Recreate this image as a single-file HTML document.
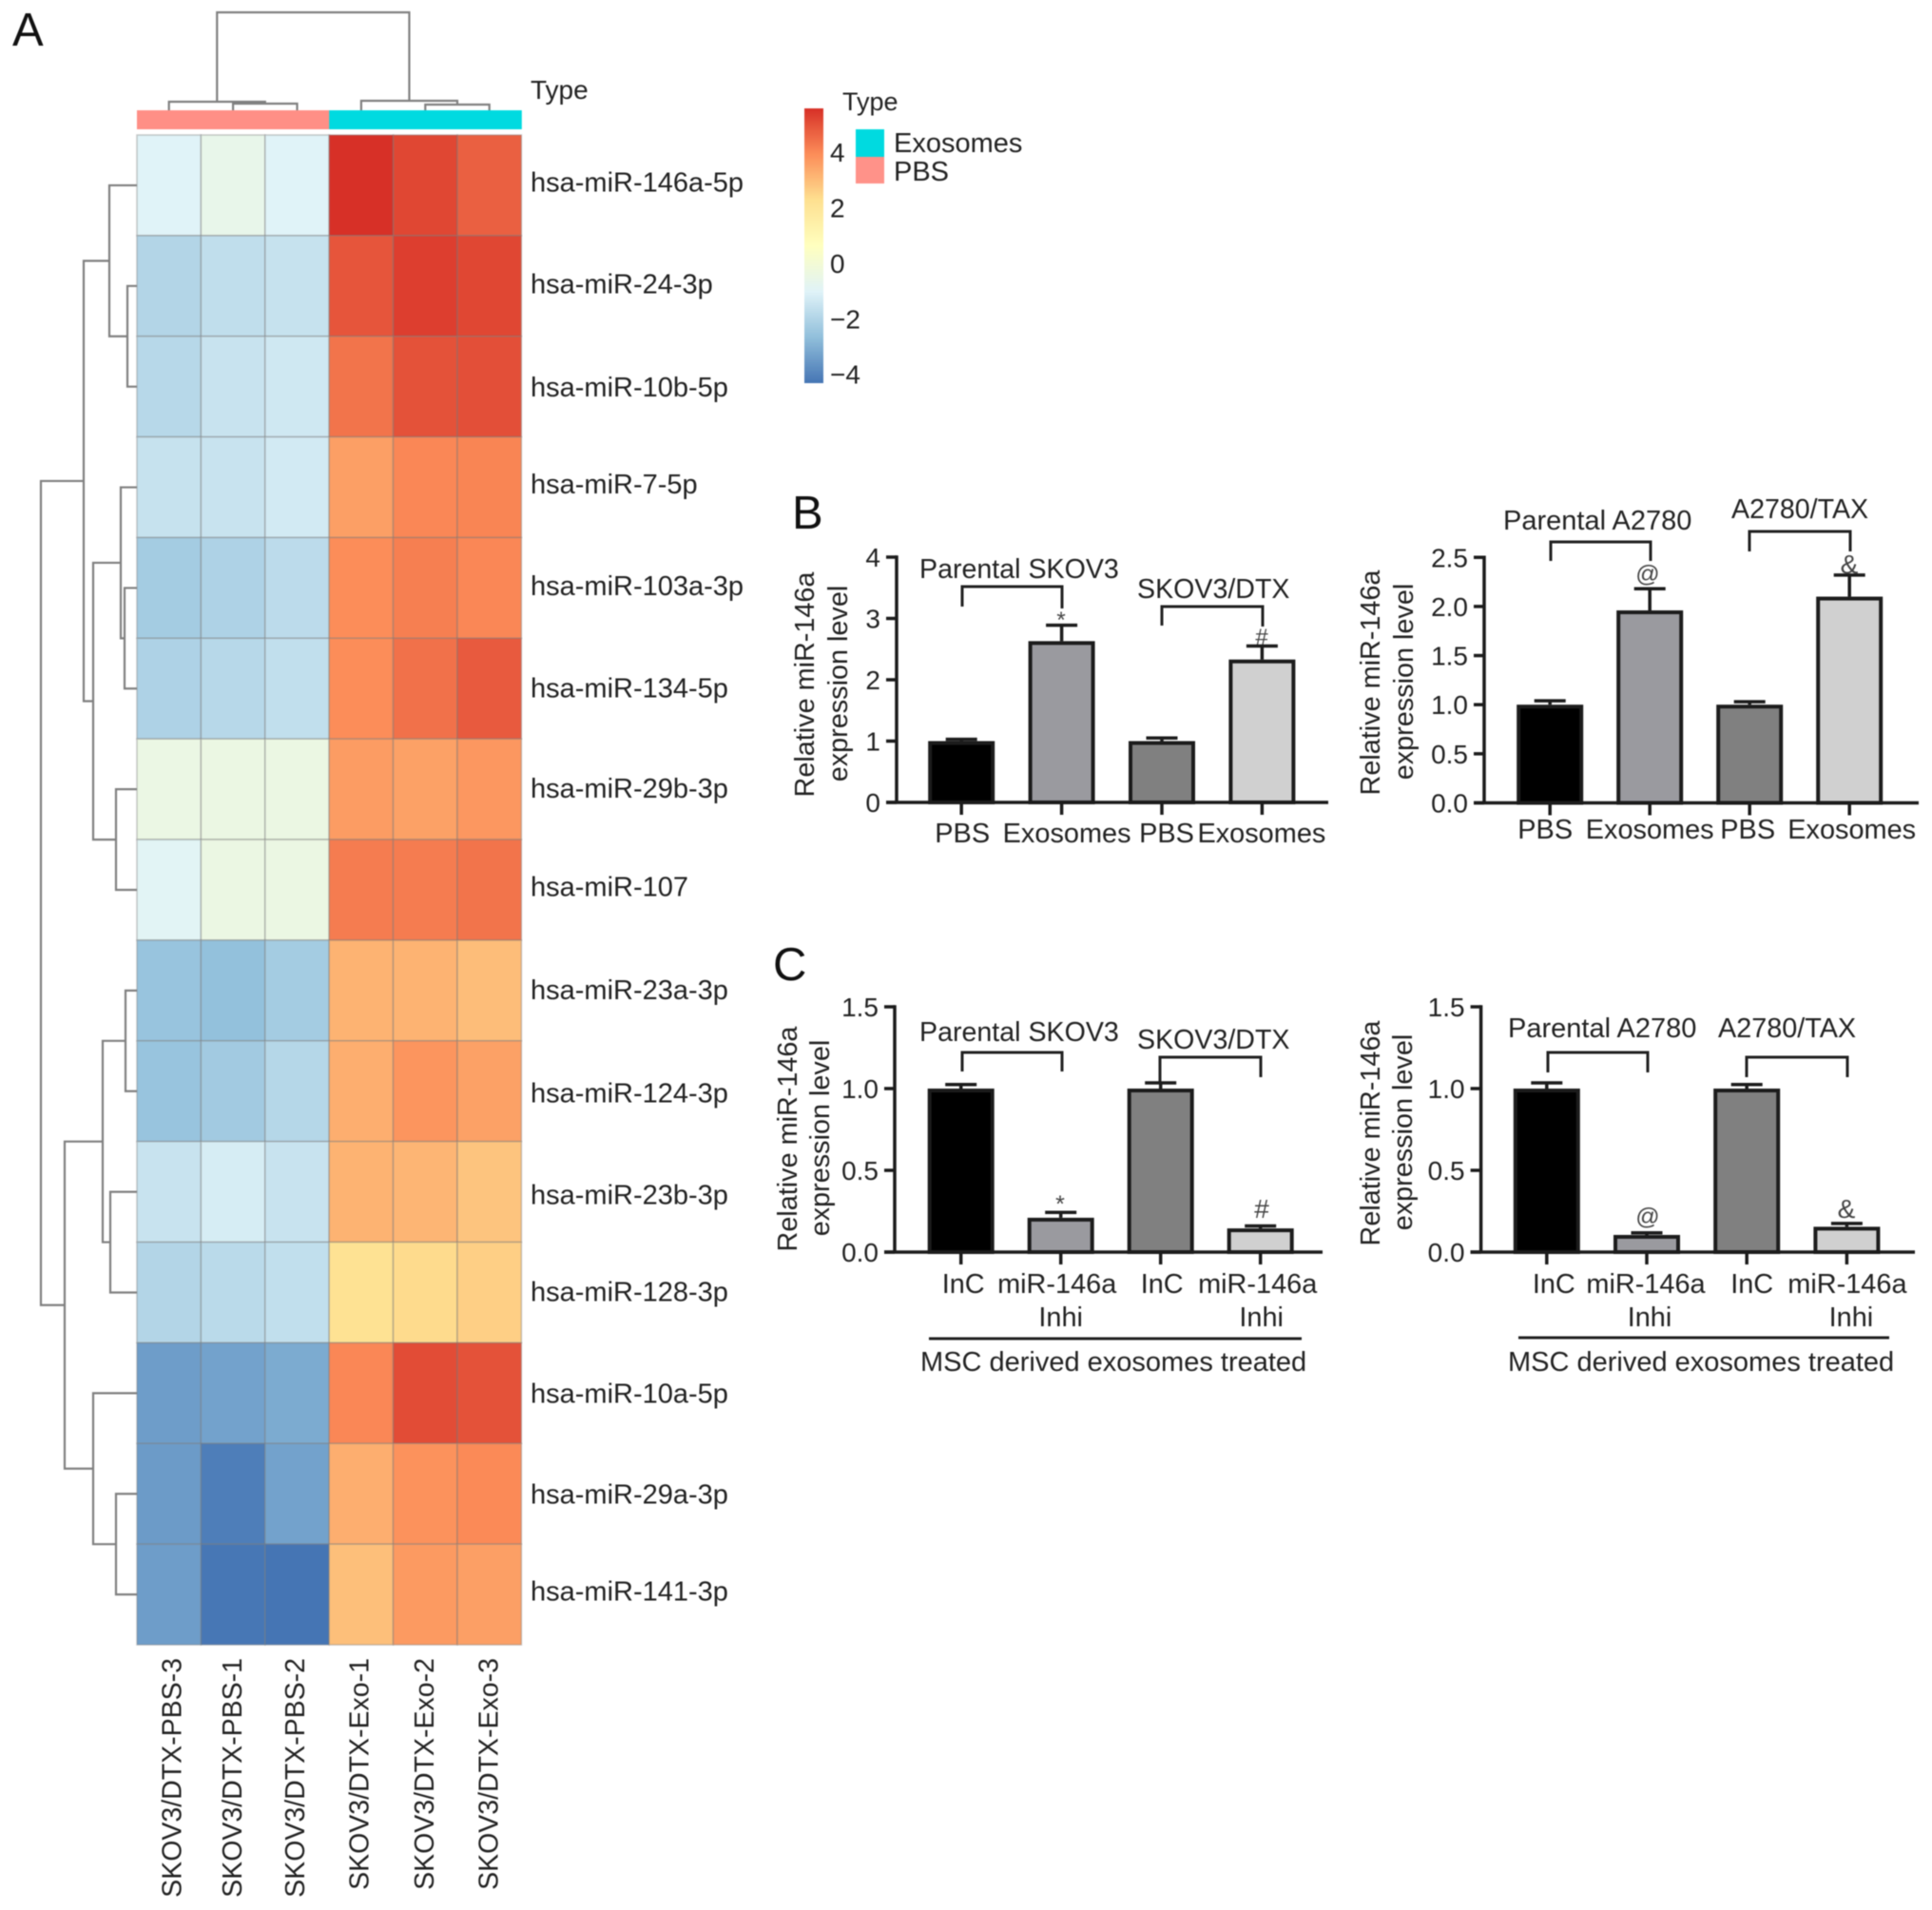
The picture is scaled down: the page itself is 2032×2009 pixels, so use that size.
<!DOCTYPE html>
<html lang="en">
<head>
<meta charset="utf-8">
<title>miR-146a heatmap and expression panels</title>
<style>
html,body{margin:0;padding:0;background:#fff;width:2032px;height:2009px;overflow:hidden}
svg{display:block;filter:blur(0.6px)}
text{font-family:"Liberation Sans",Arial,sans-serif;fill:#222}
.panel-letter{font-size:49px;fill:#111}
.anno{font-size:28.6px}
.title{font-size:28.8px;text-anchor:middle}
.sig{text-anchor:middle;fill:#444}
.bracket{fill:none;stroke:#222;stroke-width:3}
</style>
</head>
<body>
<svg id="figure" xmlns="http://www.w3.org/2000/svg" width="2032" height="2009" viewBox="0 0 2032 2009">
  <defs>
    <linearGradient id="cbar-gradient" x1="0" y1="1" x2="0" y2="0"></linearGradient>
  </defs>
  <rect x="0" y="0" width="2032" height="2009" fill="#fff"/>

  <text class="panel-letter" x="13" y="48">A</text>
  <text class="panel-letter" x="833" y="556">B</text>
  <text class="panel-letter" x="813" y="1031">C</text>

  <g id="heatmap"></g>
  <g id="legend">
    <text x="558" y="104" font-size="28">Type</text>
    <text x="886" y="116" font-size="27">Type</text>
    <rect x="900" y="136" width="30" height="29" fill="#00dae0"/>
    <rect x="900" y="165" width="30" height="28" fill="#ff9289"/>
    <text x="940" y="160" font-size="29">Exosomes</text>
    <text x="940" y="190" font-size="29">PBS</text>
  </g>

  <g id="panel-b-left">
    <text class="title" transform="translate(856 720) rotate(-90)">Relative miR-146a</text>
    <text class="title" transform="translate(891 719) rotate(-90)">expression level</text>
    <text class="anno" x="967" y="608">Parental SKOV3</text>
    <path class="bracket" d="M1012 638V617H1117V640"/>
    <text class="anno" x="1196" y="629">SKOV3/DTX</text>
    <path class="bracket" d="M1222 658V638H1328V659"/>
    <text class="sig" x="1116" y="660" font-size="24">*</text>
    <text class="sig" x="1327" y="678" font-size="24">#</text>
  </g>

  <g id="panel-b-right">
    <text class="title" transform="translate(1451 718) rotate(-90)">Relative miR-146a</text>
    <text class="title" transform="translate(1486 717) rotate(-90)">expression level</text>
    <text x="1581" y="557" font-size="29">Parental A2780</text>
    <path class="bracket" d="M1631 590V570H1736V590"/>
    <text class="anno" x="1821" y="545">A2780/TAX</text>
    <path class="bracket" d="M1840 580V559H1946V580"/>
    <text class="sig" x="1733" y="612" font-size="25">@</text>
    <text class="sig" x="1945" y="603" font-size="28">&amp;</text>
  </g>

  <g id="panel-c-left">
    <text class="title" transform="translate(838 1198) rotate(-90)">Relative miR-146a</text>
    <text class="title" transform="translate(872 1197) rotate(-90)">expression level</text>
    <text class="anno" x="967" y="1095">Parental SKOV3</text>
    <path class="bracket" d="M1012 1127V1107H1117V1127"/>
    <text class="anno" x="1196" y="1103">SKOV3/DTX</text>
    <path class="bracket" d="M1220 1138V1112H1326V1133"/>
    <text class="sig" x="1115" y="1275" font-size="25">*</text>
    <text class="sig" x="1327" y="1281" font-size="28">#</text>
    <line x1="977" y1="1408" x2="1369" y2="1408" stroke="#222" stroke-width="3"/>
    <text x="968" y="1442" font-size="29">MSC derived exosomes treated</text>
  </g>

  <g id="panel-c-right">
    <text class="title" transform="translate(1451 1192) rotate(-90)">Relative miR-146a</text>
    <text class="title" transform="translate(1485 1191) rotate(-90)">expression level</text>
    <text x="1586" y="1091" font-size="29">Parental A2780</text>
    <path class="bracket" d="M1628 1128V1107H1733V1128"/>
    <text x="1807" y="1091" font-size="28.8">A2780/TAX</text>
    <path class="bracket" d="M1837 1133V1112H1943V1133"/>
    <text class="sig" x="1733" y="1288" font-size="25">@</text>
    <text class="sig" x="1942" y="1281" font-size="28">&amp;</text>
    <line x1="1597" y1="1407" x2="1987" y2="1407" stroke="#222" stroke-width="3"/>
    <text x="1586" y="1442" font-size="29">MSC derived exosomes treated</text>
  </g>
</svg>

<script>
/* ---------- heatmap data ---------- */
const heatRowLabels = ["hsa-miR-146a-5p","hsa-miR-24-3p","hsa-miR-10b-5p","hsa-miR-7-5p","hsa-miR-103a-3p","hsa-miR-134-5p","hsa-miR-29b-3p","hsa-miR-107","hsa-miR-23a-3p","hsa-miR-124-3p","hsa-miR-23b-3p","hsa-miR-128-3p","hsa-miR-10a-5p","hsa-miR-29a-3p","hsa-miR-141-3p"];
const heatColLabels = ["SKOV3/DTX-PBS-3","SKOV3/DTX-PBS-1","SKOV3/DTX-PBS-2","SKOV3/DTX-Exo-1","SKOV3/DTX-Exo-2","SKOV3/DTX-Exo-3"];
const heatColGroups = ["PBS","PBS","PBS","Exosomes","Exosomes","Exosomes"];
const heatValues = [
  [-1.0,-0.6,-1.0,5.6,5.2,4.75],
  [-1.95,-1.66,-1.55,4.95,5.35,5.2],
  [-1.85,-1.5,-1.35,4.4,5.0,5.05],
  [-1.55,-1.5,-1.3,3.6,4.05,4.1],
  [-2.25,-2.05,-1.75,3.95,4.2,4.05],
  [-2.05,-1.85,-1.65,3.95,4.45,4.85],
  [-0.42,-0.4,-0.4,3.65,3.55,3.75],
  [-0.9,-0.4,-0.4,4.25,4.25,4.4],
  [-2.5,-2.6,-2.25,3.2,3.2,3.0],
  [-2.5,-2.3,-1.9,3.3,3.8,3.55],
  [-1.5,-1.2,-1.5,3.2,3.15,2.85],
  [-1.95,-1.8,-1.65,2.2,2.4,2.63],
  [-3.4,-3.3,-3.1,4.05,5.1,5.0],
  [-3.45,-4.1,-3.3,3.3,3.85,4.0],
  [-3.4,-4.25,-4.3,2.95,3.7,3.6]
];
const colorbarTicks = [4,2,0,-2,-4];
const colorbarMin = -4.3;
const colorbarMax = 5.6;
const colorStops = ["#4575b4","#91bfdb","#e0f3f8","#ffffbf","#fee090","#fc8d59","#d73027"];
/* dendrogram merge heights; leaves are row / column indices */
const rowTree = {h:10.1,c:[
  {h:5.6,c:[
    {h:2.9,c:[0,{h:1.0,c:[1,2]}]},
    {h:4.6,c:[
      {h:1.7,c:[3,{h:1.3,c:[4,5]}]},
      {h:2.2,c:[6,7]}
    ]}
  ]},
  {h:7.6,c:[
    {h:3.6,c:[{h:1.2,c:[8,9]},{h:2.8,c:[10,11]}]},
    {h:4.6,c:[12,{h:2.2,c:[13,14]}]}
  ]}
]};
const colTree = {h:10.3,c:[
  {h:0.9,c:[0,{h:0.7,c:[1,2]}]},
  {h:1.0,c:[3,{h:0.6,c:[4,5]}]}
]};

/* ---------- bar panel data ---------- */
const bLeftCategories = ["PBS","Exosomes","PBS","Exosomes"];
const bLeftValues = [1.0,2.63,1.0,2.33];
const bLeftErrors = [0.03,0.26,0.05,0.22];
const bLeftTicks = ["0","1","2","3","4"];

const bRightCategories = ["PBS","Exosomes","PBS","Exosomes"];
const bRightValues = [1.0,1.96,1.0,2.1];
const bRightErrors = [0.04,0.22,0.03,0.22];
const bRightTicks = ["0.0","0.5","1.0","1.5","2.0","2.5"];

const cLeftCategories = ["InC","miR-146a|Inhi","InC","miR-146a|Inhi"];
const cLeftValues = [1.0,0.21,1.0,0.145];
const cLeftErrors = [0.025,0.033,0.035,0.015];
const cLeftTicks = ["0.0","0.5","1.0","1.5"];

const cRightCategories = ["InC","miR-146a|Inhi","InC","miR-146a|Inhi"];
const cRightValues = [1.0,0.105,1.0,0.155];
const cRightErrors = [0.035,0.013,0.025,0.02];
const cRightTicks = ["0.0","0.5","1.0","1.5"];

const barFills = ["#000000","#9a9a9f","#808080","#d0d0d0"];

/* ---------- helpers ---------- */
const NS = "http://www.w3.org/2000/svg";
function make(tag, parent, attrs, txt){
  const el = document.createElementNS(NS, tag);
  for (const k in attrs) el.setAttribute(k, attrs[k]);
  if (txt !== undefined) el.textContent = txt;
  parent.appendChild(el);
  return el;
}
function valueColor(v){
  let t = (v - colorbarMin) / (colorbarMax - colorbarMin);
  t = Math.max(0, Math.min(1, t)) * (colorStops.length - 1);
  const i = Math.min(colorStops.length - 2, Math.floor(t));
  const f = t - i;
  const parse = s => [1,3,5].map(p => parseInt(s.substr(p,2),16));
  const a = parse(colorStops[i]), b = parse(colorStops[i+1]);
  return "rgb(" + a.map((x,k) => Math.round(x + (b[k]-x)*f)).join(",") + ")";
}

/* ---------- heatmap ---------- */
const heat = document.getElementById("heatmap");
const heatLeft = 144, heatTop = 142, cellW = 67.4, cellH = 105.87;
const colX = i => heatLeft + i * cellW;
const rowY = i => heatTop + i * cellH;
const groupColor = g => g === "PBS" ? "#ff8f86" : "#00dae0";
/* small layout nudges matching the label placement in the figure */
const rowLabelNudge = [-2.6,-1.3,1.3,-2.6,-1.3,0,0,-2.6,0,2.6,3.9,0,1.3,1.3,-2.6];
const colLabelNudge = [2.6,-1.3,-2.6,-2.6,-1.3,-1.3];

heatColGroups.forEach((g, c) => {
  const cell = make("rect", heat, {x:colX(c), y:116, width:cellW+0.4, height:20, fill:groupColor(g)});
  
  
});
heatValues.forEach((row, r) => {
  row.forEach((v, c) => {
    const cell = make("rect", heat, {x:colX(c), y:rowY(r), width:cellW, height:cellH, fill:valueColor(v), stroke:"rgba(120,120,120,0.38)", "stroke-width":1.6});
    
    
  });
});
heatRowLabels.forEach((label, r) => {
  const t = make("text", heat, {x:558, y:rowY(r)+cellH/2+9+rowLabelNudge[r], "font-size":29}, label);
  
  
});
heatColLabels.forEach((label, c) => {
  const cx = colX(c) + cellW/2 + 10 + colLabelNudge[c];
  const t = make("text", heat, {transform:"translate("+cx+" 1744) rotate(-90)", "text-anchor":"end", "font-size":28.5}, label);
  
  
});

/* dendrograms */
function treePath(node, leafPos, heightPos, horizontal, out){
  if (typeof node === "number") return {pos:leafPos(node), hp:heightPos(0)};
  const kids = node.c.map(k => treePath(k, leafPos, heightPos, horizontal, out));
  const hp = heightPos(node.h);
  const p0 = kids[0], p1 = kids[1];
  if (horizontal) {
    out.push("M"+p0.pos+" "+p0.hp+"V"+hp+"H"+p1.pos+"V"+p1.hp);
  } else {
    out.push("M"+p0.hp+" "+p0.pos+"H"+hp+"V"+p1.pos+"H"+p1.hp);
  }
  return {pos:(p0.pos+p1.pos)/2, hp:hp};
}
const rowSegs = [];
treePath(rowTree, i => rowY(i)+cellH/2, h => heatLeft - h*10, false, rowSegs);
const rowDendro = make("path", heat, {d:rowSegs.join(""), fill:"none", stroke:"#808080", "stroke-width":2.2});


const colSegs = [];
treePath(colTree, i => colX(i)+cellW/2, h => 116 - h*10, true, colSegs);
const colDendro = make("path", heat, {d:colSegs.join(""), fill:"none", stroke:"#808080", "stroke-width":2.2});



/* colorbar */
const grad = document.getElementById("cbar-gradient");
colorStops.forEach((col, i) => {
  make("stop", grad, {offset:(i/(colorStops.length-1)), "stop-color":col});
});
const legend = document.getElementById("legend");
const cbarTop = 114, cbarBottom = 403;
const cbarY = v => cbarBottom - (v - colorbarMin) / (colorbarMax - colorbarMin) * (cbarBottom - cbarTop);
const cbar = make("rect", legend, {x:846, y:cbarTop, width:20, height:cbarBottom-cbarTop, fill:"url(#cbar-gradient)"});


colorbarTicks.forEach(v => {
  const t = make("text", legend, {x:873, y:cbarY(v)+9.5, "font-size":28}, v < 0 ? "\u2212" + Math.abs(v) : String(v));
  
  
});

/* ---------- bar panels ---------- */
function drawBars(id, layout, categories, values, errors, ticks){
  const g = document.getElementById(id);
  const y = v => layout.y0 - v * layout.unit;
  const x = i => layout.cx0 + i * layout.step;
  values.forEach((v, i) => {
    const bar = make("rect", g, {x:x(i)-layout.bw/2+2, y:y(v)+2, width:layout.bw-4, height:layout.y0-y(v)-2, fill:barFills[i], stroke:"#1c1c1c", "stroke-width":4});
    
    
    const err = make("path", g, {d:"M"+x(i)+" "+y(v)+"V"+y(v+errors[i])+"M"+(x(i)-16.5)+" "+y(v+errors[i])+"H"+(x(i)+16.5), fill:"none", stroke:"#1c1c1c", "stroke-width":3.5});
    
    
    const xTick = make("line", g, {x1:x(i), x2:x(i), y1:layout.y0, y2:layout.y0+13, stroke:"#1c1c1c", "stroke-width":3.5});
    
    
    categories[i].split("|").forEach((line, n) => {
      const cx = x(i) + layout.labelShift[i] + (n ? layout.line2Shift : 0);
      const lab = make("text", g, {x:cx, y:layout.labelY + n*35, "text-anchor":"middle", "font-size":28.9}, line);
      
      
    });
  });
  const yAxis = make("line", g, {x1:layout.axisX, x2:layout.axisX, y1:y(layout.max)-1.7, y2:layout.y0, stroke:"#1c1c1c", "stroke-width":3.5});
  
  
  const xAxis = make("line", g, {x1:layout.axisX-11, x2:layout.xEnd, y1:layout.y0, y2:layout.y0, stroke:"#1c1c1c", "stroke-width":3.5});
  
  
  ticks.forEach(label => {
    const v = parseFloat(label);
    const tick = make("line", g, {x1:layout.axisX-11, x2:layout.axisX, y1:y(v), y2:y(v), stroke:"#1c1c1c", "stroke-width":3.5});
    
    
    const t = make("text", g, {x:layout.axisX-17, y:y(v)+10, "text-anchor":"end", "font-size":28}, label);
    
    
  });
}

drawBars("panel-b-left",
  {y0:844, unit:64.5, max:4, axisX:943, xEnd:1397, cx0:1011.2, step:105.4, bw:70, labelY:886, labelShift:[1,5.5,5,-0.5], line2Shift:0},
  bLeftCategories, bLeftValues, bLeftErrors, bLeftTicks);
drawBars("panel-b-right",
  {y0:844.5, unit:103.3, max:2.5, axisX:1561, xEnd:2018, cx0:1630.2, step:105, bw:70, labelY:882, labelShift:[-5,0,-2,2.5], line2Shift:0},
  bRightCategories, bRightValues, bRightErrors, bRightTicks);
drawBars("panel-c-left",
  {y0:1317, unit:172, max:1.5, axisX:941, xEnd:1391, cx0:1010.7, step:105, bw:70, labelY:1360, labelShift:[2.5,-4,1.5,-3],  line2Shift:4},
  cLeftCategories, cLeftValues, cLeftErrors, cLeftTicks);
drawBars("panel-c-right",
  {y0:1317, unit:172, max:1.5, axisX:1557.6, xEnd:2014, cx0:1626.8, step:105.2, bw:70, labelY:1360, labelShift:[7.5,-1,5.5,0.5], line2Shift:4},
  cRightCategories, cRightValues, cRightErrors, cRightTicks);
</script>
</body>
</html>
